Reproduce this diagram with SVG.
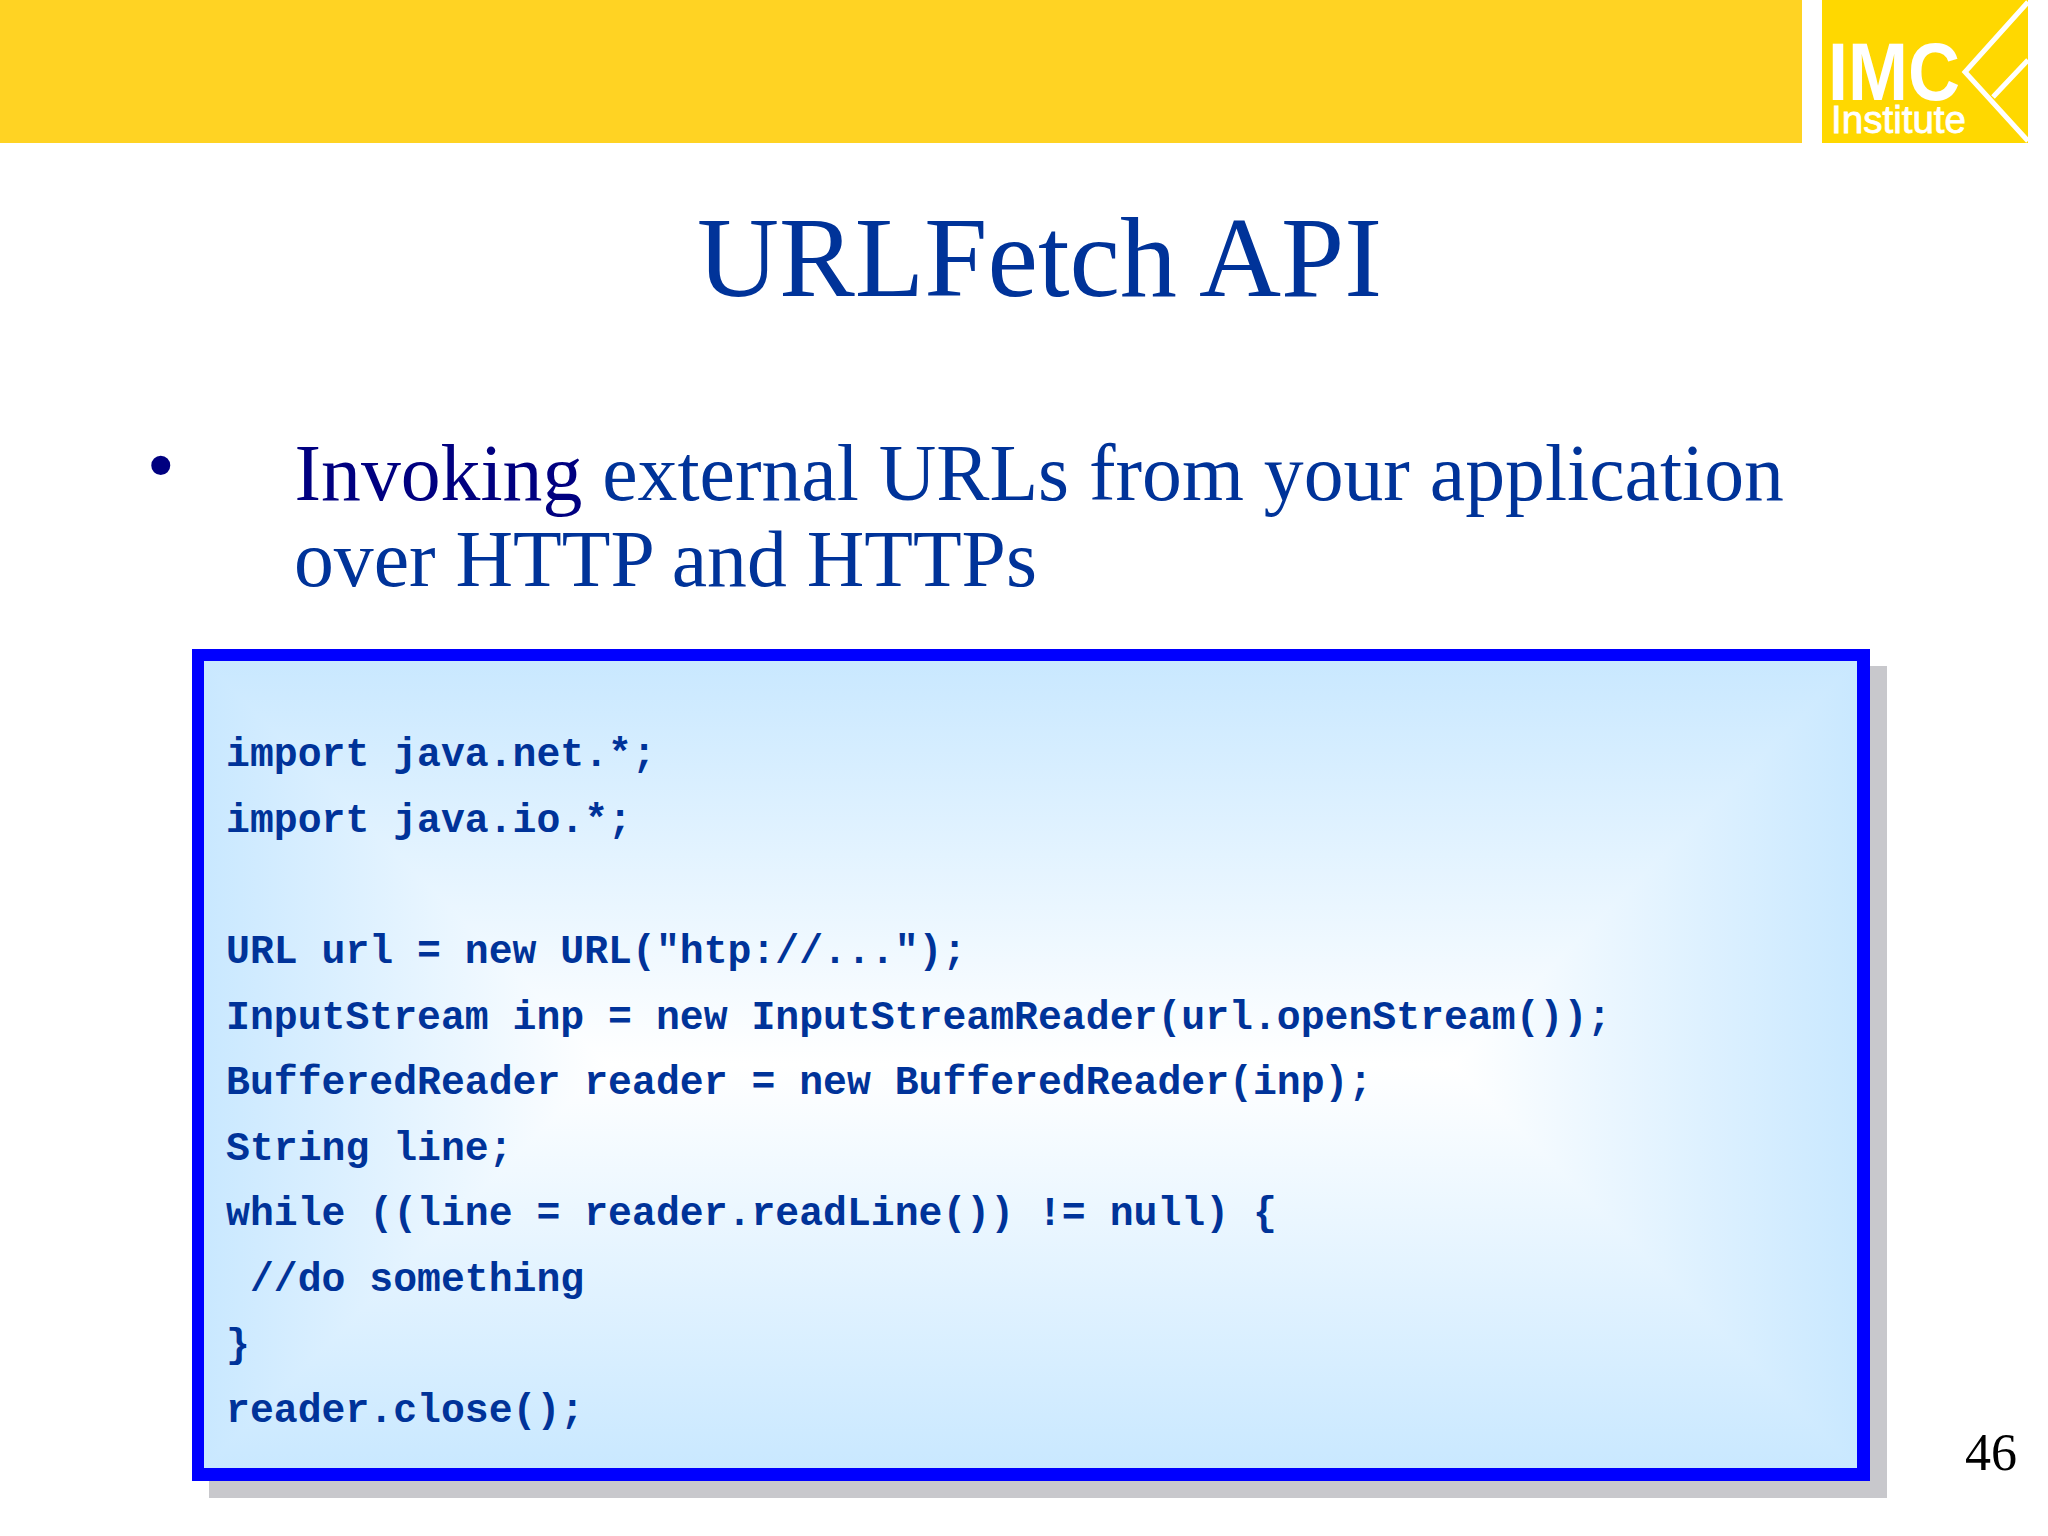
<svg xmlns="http://www.w3.org/2000/svg" width="2048" height="1536" viewBox="0 0 2048 1536">
<style>
.serif{font-family:"Liberation Serif","Times New Roman",serif}
.code{font-family:"Liberation Mono","Courier New",monospace;font-weight:700;font-size:39.8px;fill:#003399;white-space:pre}
.body{font-size:79.7px;fill:#003399}
.logo{font-family:"Liberation Sans",Arial,sans-serif;fill:#fff}
.grad{shape-rendering:crispEdges}
</style>
<defs>
<linearGradient id="gT" gradientUnits="userSpaceOnUse" x1="0" y1="661" x2="0" y2="1064.5"><stop offset="0" stop-color="#c9e8ff"/><stop offset="1" stop-color="#fff"/></linearGradient>
<linearGradient id="gB" gradientUnits="userSpaceOnUse" x1="0" y1="1468" x2="0" y2="1064.5"><stop offset="0" stop-color="#c9e8ff"/><stop offset="1" stop-color="#fff"/></linearGradient>
<linearGradient id="gL" gradientUnits="userSpaceOnUse" x1="204" y1="0" x2="607.5" y2="0"><stop offset="0" stop-color="#c9e8ff"/><stop offset="1" stop-color="#fff"/></linearGradient>
<linearGradient id="gR" gradientUnits="userSpaceOnUse" x1="1857" y1="0" x2="1453.5" y2="0"><stop offset="0" stop-color="#c9e8ff"/><stop offset="1" stop-color="#fff"/></linearGradient>
</defs>
<rect width="2048" height="1536" fill="#fff"/>
<g id="banner"><rect x="0" y="0" width="1802" height="143" fill="#ffd323"/></g>
<g id="logo">
<rect x="1822" y="0" width="206" height="143" fill="#ffd800"/>
<path d="M2028 2L1965 72L2028 141M1993 97L2028 60" fill="none" stroke="#fff" stroke-width="5"/>
<text class="logo" x="1828" y="100" font-size="82" font-weight="700" textLength="132" lengthAdjust="spacingAndGlyphs">IMC</text>
<text class="logo" x="1831" y="133" font-size="38" stroke="#fff" stroke-width="0.8" textLength="135" lengthAdjust="spacingAndGlyphs">Institute</text>
</g>
<g id="title"><text class="serif" x="697" y="296" font-size="113.5" fill="#003399" textLength="685" lengthAdjust="spacingAndGlyphs">URLFetch API</text></g>
<g id="bullet">
<text class="serif" x="146.8" y="492" font-size="80" fill="#000080">•</text>
<text class="serif body" x="294.5" y="500"><tspan fill="#000080">Invoking</tspan> external URLs from your application</text>
<text class="serif body" x="294" y="586">over HTTP and HTTPs</text>
</g>
<g id="code-box">
<rect x="209" y="666" width="1678" height="832" fill="#c8c8cc"/>
<rect x="192" y="649" width="1678" height="832" fill="#0000ff"/>
<rect x="204" y="661" width="1653" height="807" fill="#fff"/>
<polygon class="grad" points="204,661 1857,661 1453.5,1064.5 607.5,1064.5" fill="url(#gT)"/>
<polygon class="grad" points="204,1468 1857,1468 1453.5,1064.5 607.5,1064.5" fill="url(#gB)"/>
<polygon class="grad" points="204,661 204,1468 607.5,1064.5" fill="url(#gL)"/>
<polygon class="grad" points="1857,661 1857,1468 1453.5,1064.5" fill="url(#gR)"/>
<text class="code" x="226" y="766">import java.net.*;</text>
<text class="code" x="226" y="831.5">import java.io.*;</text>
<text class="code" x="226" y="963">URL url = new URL("htp://...");</text>
<text class="code" x="226" y="1028.5">InputStream inp = new InputStreamReader(url.openStream());</text>
<text class="code" x="226" y="1094">BufferedReader reader = new BufferedReader(inp);</text>
<text class="code" x="226" y="1159.5">String line;</text>
<text class="code" x="226" y="1225">while ((line = reader.readLine()) != null) {</text>
<text class="code" x="226" y="1291"> //do something</text>
<text class="code" x="226" y="1356.5">}</text>
<text class="code" x="226" y="1422">reader.close();</text>
</g>
<g id="page-number"><text class="serif" x="1965" y="1470" font-size="52" fill="#000">46</text></g>
</svg>
